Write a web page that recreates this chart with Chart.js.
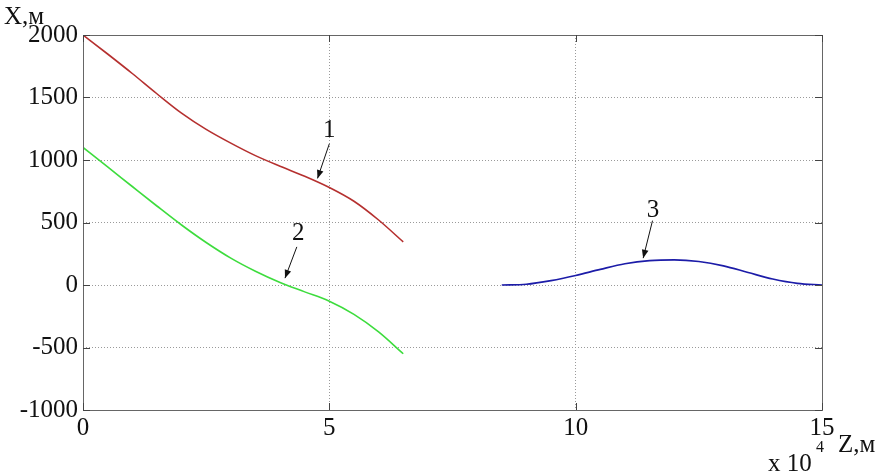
<!DOCTYPE html>
<html>
<head>
<meta charset="utf-8">
<script src="https://cdn.jsdelivr.net/npm/chart.js@4/dist/chart.umd.min.js"></script>
<style>
  html, body { margin: 0; padding: 0; background: #fff; }
  #wrap { width: 878px; height: 473px; position: relative; }
</style>
</head>
<body>
<div id="wrap"><canvas id="grafico"></canvas></div>
<script>
// Z in units of 10^4 m, X in m
const zRed   = [0, 0.5, 1, 1.5, 2, 2.5, 3, 3.5, 4, 4.5, 5, 5.5, 6, 6.5];
const xRed   = [2000, 1848, 1692, 1530, 1375, 1245, 1135, 1035, 950, 870, 780, 670, 520, 345];
const zGreen = [0, 0.5, 1, 1.5, 2, 2.5, 3, 3.5, 4, 4.5, 5, 5.5, 6, 6.5];
const xGreen = [1100, 945, 788, 632, 480, 340, 215, 110, 20, -55, -130, -235, -375, -550];
const zBlue  = [8.5, 9, 9.5, 10, 10.5, 11, 11.5, 12, 12.5, 13, 13.5, 14, 14.5, 15];
const xBlue  = [0, 6, 35, 76, 125, 170, 195, 201, 188, 153, 100, 48, 13, 0];

// curve labels: text, label pos, arrow tail, arrow tip (data units)
const labels = [
  { t: '1', at: [5.0, 1239], from: [5.0, 1130], to: [4.76, 853] },
  { t: '2', at: [4.37, 414], from: [4.34, 305], to: [4.10, 55] },
  { t: '3', at: [11.57, 600], from: [11.56, 515], to: [11.37, 215] }
];

const zTicks = [0, 5, 10, 15];
const xTicks = [-1000, -500, 0, 500, 1000, 1500, 2000];

const FONT = '"Liberation Serif", "Times New Roman", serif';
Chart.defaults.font.family = FONT;
const pts = (zs, xs) => zs.map((z, i) => ({ x: z, y: xs[i] }));

const moldura = {
  id: 'moldura',
  afterDraw(chart) {
    const { ctx, chartArea: a, scales: { x, y } } = chart;
    ctx.save();
    // box
    ctx.strokeStyle = '#666';
    ctx.lineWidth = 1;
    ctx.strokeRect(Math.round(a.left) + 0.5, Math.round(a.top) + 0.5,
      Math.round(a.right - a.left), Math.round(a.bottom - a.top));
    // inward tick marks
    ctx.strokeStyle = '#444';
    ctx.beginPath();
    xTicks.forEach(v => {
      const py = Math.round(y.getPixelForValue(v)) + 0.5;
      ctx.moveTo(a.left, py); ctx.lineTo(a.left + 7, py);
      ctx.moveTo(a.right, py); ctx.lineTo(a.right - 7, py);
    });
    zTicks.forEach(v => {
      const px = Math.round(x.getPixelForValue(v)) + 0.5;
      ctx.moveTo(px, a.bottom); ctx.lineTo(px, a.bottom - 7);
      ctx.moveTo(px, a.top); ctx.lineTo(px, a.top + 7);
    });
    ctx.stroke();

    // axis titles
    ctx.fillStyle = '#111';
    ctx.font = '25px ' + FONT;
    ctx.textBaseline = 'alphabetic';
    ctx.textAlign = 'left';
    ctx.fillText('X,м', 4, 24);
    ctx.fillText('Z,м', 838, 452);
    ctx.fillText('x 10', 768, 471);
    ctx.font = '16px ' + FONT;
    ctx.fillText('4', 816, 452);

    // curve labels with arrows
    labels.forEach(l => {
      const lx = x.getPixelForValue(l.at[0]), ly = y.getPixelForValue(l.at[1]);
      ctx.font = '25px ' + FONT;
      ctx.textAlign = 'center';
      ctx.textBaseline = 'middle';
      ctx.fillText(l.t, lx, ly);
      const x0 = x.getPixelForValue(l.from[0]), y0 = y.getPixelForValue(l.from[1]);
      const x1 = x.getPixelForValue(l.to[0]), y1 = y.getPixelForValue(l.to[1]);
      ctx.strokeStyle = '#111';
      ctx.lineWidth = 1;
      ctx.beginPath(); ctx.moveTo(x0, y0); ctx.lineTo(x1, y1); ctx.stroke();
      const ang = Math.atan2(y1 - y0, x1 - x0);
      const len = 9, w = 0.38;
      ctx.beginPath();
      ctx.moveTo(x1, y1);
      ctx.lineTo(x1 - len * Math.cos(ang - w), y1 - len * Math.sin(ang - w));
      ctx.lineTo(x1 - len * Math.cos(ang + w), y1 - len * Math.sin(ang + w));
      ctx.closePath();
      ctx.fill();
    });
    ctx.restore();
  }
};

const ctx = document.getElementById('grafico').getContext('2d');
new Chart(ctx, {
  type: 'line',
  data: {
    datasets: [
      { label: '1', data: pts(zRed, xRed), borderColor: '#b5302f' },
      { label: '2', data: pts(zGreen, xGreen), borderColor: '#3ddc3d' },
      { label: '3', data: pts(zBlue, xBlue), borderColor: '#1c1ca8' }
    ].map(d => Object.assign(d, {
      borderWidth: 1.6, pointRadius: 0, fill: false, cubicInterpolationMode: 'monotone'
    }))
  },
  options: {
    responsive: true,
    maintainAspectRatio: false,
    animation: false,
    layout: { padding: { left: 0, top: 35, right: 56, bottom: 0 } },
    plugins: { legend: { display: false }, tooltip: { enabled: false } },
    scales: {
      x: {
        type: 'linear', min: 0, max: 15,
        afterBuildTicks: s => { s.ticks = zTicks.map(v => ({ value: v })); },
        afterFit: s => { s.height = 63; },
        grid: { color: '#9a9a9a', lineWidth: 1, drawTicks: false },
        border: { display: false, dash: [1, 2] },
        ticks: { color: '#111', padding: 3, maxRotation: 0, callback: v => String(v),
                 font: { family: FONT, size: 25 } }
      },
      y: {
        min: -1000, max: 2000,
        afterBuildTicks: s => { s.ticks = xTicks.map(v => ({ value: v })); },
        afterFit: s => { s.width = 83; },
        grid: { color: '#9a9a9a', lineWidth: 1, drawTicks: false },
        border: { display: false, dash: [1, 2] },
        ticks: { color: '#111', padding: 5, callback: v => String(v),
                 font: { family: FONT, size: 25 } }
      }
    }
  },
  plugins: [moldura]
});
</script>
</body>
</html>
